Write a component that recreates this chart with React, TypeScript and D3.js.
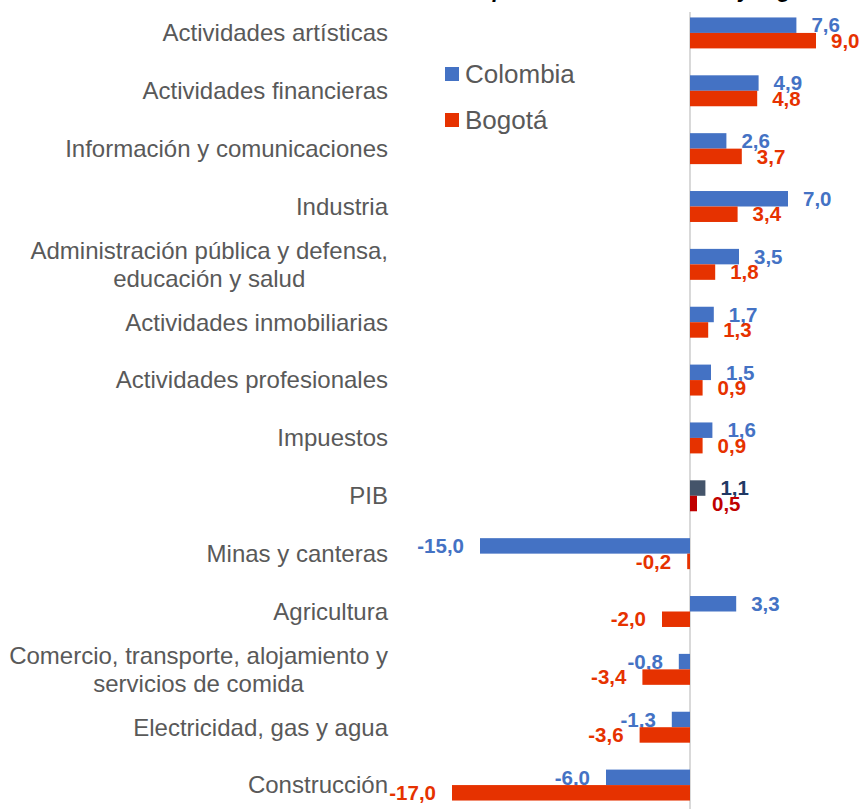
import React, { useEffect, useRef } from "react";
import * as d3 from "d3";

// data
const categories = [
  "Actividades artísticas",
  "Actividades financieras",
  "Información y comunicaciones",
  "Industria",
  "Administración pública y defensa,\neducación y salud",
  "Actividades inmobiliarias",
  "Actividades profesionales",
  "Impuestos",
  "PIB",
  "Minas y canteras",
  "Agricultura",
  "Comercio, transporte, alojamiento y\nservicios de comida",
  "Electricidad, gas y agua",
  "Construcción",
];
const colombia = [7.6, 4.9, 2.6, 7.0, 3.5, 1.7, 1.5, 1.6, 1.1, -15.0, 3.3, -0.8, -1.3, -6.0];
const bogota = [9.0, 4.8, 3.7, 3.4, 1.8, 1.3, 0.9, 0.9, 0.5, -0.2, -2.0, -3.4, -3.6, -17.0];
const seriesNames = ["Colombia", "Bogotá"];
const highlight = "PIB";
const title = "Crecimiento anual por ramas de actividad y región";

const W = 862;
const H = 809;
const FONT = "'Liberation Sans', Arial, sans-serif";

function App() {
  const svgRef = useRef<SVGSVGElement>(null);

  useEffect(() => {
    const svg = d3.select(svgRef.current);
    svg.selectAll("*").remove();

    const x = d3.scaleLinear().domain([-18, 12]).range([438, 858]);
    const y = d3.scaleBand().domain(categories).range([4, 814]).paddingInner(0.465).paddingOuter(0.2325);
    const inner = d3.scaleBand().domain(seriesNames).range([0, y.bandwidth()]);

    const colors: Record<string, string> = { Colombia: "#4472C4", "Bogotá": "#E63200" };
    const hiColors: Record<string, string> = { Colombia: "#44546A", "Bogotá": "#C00000" };
    const hiLabel: Record<string, string> = { Colombia: "#203864", "Bogotá": "#C00000" };
    const fmt = (v: number) => v.toFixed(1).replace(".", ",");

    const rows = categories.map((c, i) => ({ cat: c, Colombia: colombia[i], "Bogotá": bogota[i] }));

    // title (cut off at the top, as in the source)
    svg.append("text")
      .attr("x", 560).attr("y", -3)
      .attr("text-anchor", "middle")
      .attr("font-family", FONT).attr("font-size", 22)
      .attr("font-weight", "bold").attr("font-style", "italic")
      .attr("fill", "#000")
      .text(title);

    // zero axis
    svg.append("line")
      .attr("x1", x(0)).attr("x2", x(0))
      .attr("y1", 12).attr("y2", H)
      .attr("stroke", "#D9D9D9").attr("stroke-width", 2);

    const groups = svg.selectAll(".row").data(rows).join("g")
      .attr("class", "row")
      .attr("transform", d => `translate(0,${y(d.cat)})`);

    seriesNames.forEach(s => {
      groups.append("rect")
        .attr("x", (d: any) => x(Math.min(0, d[s])))
        .attr("y", inner(s)!)
        .attr("width", (d: any) => Math.abs(x(d[s]) - x(0)))
        .attr("height", inner.bandwidth())
        .attr("fill", (d: any) => (d.cat === highlight ? hiColors[s] : colors[s]));

      groups.append("text")
        .attr("x", (d: any) => (d[s] >= 0 ? x(d[s]) + 15 : x(d[s]) - 16))
        .attr("y", inner(s)! + inner.bandwidth() / 2)
        .attr("dy", "0.35em")
        .attr("text-anchor", (d: any) => (d[s] >= 0 ? "start" : "end"))
        .attr("font-family", FONT).attr("font-size", 20.5).attr("font-weight", "bold")
        .attr("fill", (d: any) => (d.cat === highlight ? hiLabel[s] : colors[s]))
        .text((d: any) => fmt(d[s]));
    });

    // category labels
    const labelRight = 388;
    const lineH = 28;
    categories.forEach(c => {
      const lines = c.split("\n");
      const cy = y(c)! + y.bandwidth() / 2;
      const t = svg.append("text")
        .attr("font-family", FONT).attr("font-size", 24)
        .attr("fill", "#595959");
      lines.forEach((ln, j) => {
        t.append("tspan")
          .attr("y", cy + (j - (lines.length - 1) / 2) * lineH)
          .attr("dy", "0.35em")
          .text(ln);
      });
      if (lines.length === 1) {
        t.attr("text-anchor", "end").selectAll("tspan").attr("x", labelRight);
      } else {
        let maxW = 0;
        t.selectAll<SVGTSpanElement, unknown>("tspan").each(function () {
          maxW = Math.max(maxW, this.getComputedTextLength());
        });
        t.attr("text-anchor", "middle").selectAll("tspan").attr("x", labelRight - maxW / 2);
      }
    });

    // legend
    const legend = svg.append("g").attr("transform", "translate(445,74)");
    seriesNames.forEach((s, i) => {
      legend.append("rect")
        .attr("x", 0).attr("y", i * 46 - 7)
        .attr("width", 14).attr("height", 14)
        .attr("fill", colors[s]);
      legend.append("text")
        .attr("x", 20).attr("y", i * 46)
        .attr("dy", "0.35em")
        .attr("font-family", FONT).attr("font-size", 26)
        .attr("fill", "#595959")
        .text(s);
    });
  }, []);

  return (
    <div style={{ position: "absolute", left: 0, top: 0 }}>
      <svg ref={svgRef} width={W} height={H} style={{ display: "block", background: "#fff" }} />
    </div>
  );
}

export default App;
